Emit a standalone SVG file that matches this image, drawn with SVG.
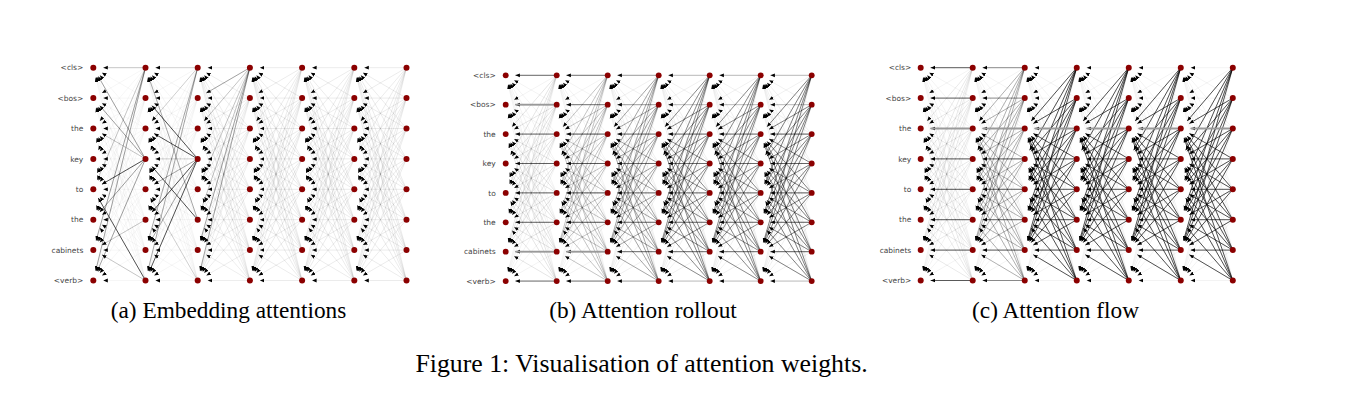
<svg xmlns="http://www.w3.org/2000/svg" width="1369" height="416" viewBox="0 0 1369 416">
<style>
.m{stroke:#000;stroke-width:.5;fill:none}
.h{stroke:#000;stroke-width:.8;fill:none}
.g{stroke:#9a9a9a;stroke-width:1.8;fill:none}
.n circle{fill:#8b0000}
.lab{font-family:"DejaVu Sans",sans-serif;font-size:7.5px;fill:#444;text-anchor:end}
.cap{font-family:"Liberation Serif",serif;font-size:23.3px;fill:#000;text-anchor:middle}
.cap2{font-family:"Liberation Serif",serif;font-size:25.8px;fill:#000;text-anchor:middle}
</style>
<defs>
<marker id="ah" markerUnits="userSpaceOnUse" markerWidth="6" markerHeight="6" viewBox="0 0 6 6" refX="4.5" refY="3" orient="auto"><path d="M0,1.1L4.5,3L0,4.9z" fill="#000"/></marker>
<g id="mesh" marker-end="url(#ah)">
<path d="M52.2,0L10,0"/><path d="M52.2,0L8.64,25.37"/><path d="M52.2,0L6.51,53.21"/><path d="M52.2,0L4.97,82.52"/><path d="M52.2,0L3.95,112.41"/><path d="M52.2,0L3.25,142.54"/><path d="M52.2,0L2.75,172.79"/><path d="M52.2,0L2.38,203.09"/>
<path d="M52.2,30.4L8.64,5.03"/><path d="M52.2,30.4L10,30.4"/><path d="M52.2,30.4L8.64,55.77"/><path d="M52.2,30.4L6.51,83.61"/><path d="M52.2,30.4L4.97,112.92"/><path d="M52.2,30.4L3.95,142.81"/><path d="M52.2,30.4L3.25,172.94"/><path d="M52.2,30.4L2.75,203.19"/>
<path d="M52.2,60.8L6.51,7.59"/><path d="M52.2,60.8L8.64,35.43"/><path d="M52.2,60.8L10,60.8"/><path d="M52.2,60.8L8.64,86.17"/><path d="M52.2,60.8L6.51,114.01"/><path d="M52.2,60.8L4.97,143.32"/><path d="M52.2,60.8L3.95,173.21"/><path d="M52.2,60.8L3.25,203.34"/>
<path d="M52.2,91.2L4.97,8.68"/><path d="M52.2,91.2L6.51,37.99"/><path d="M52.2,91.2L8.64,65.83"/><path d="M52.2,91.2L10,91.2"/><path d="M52.2,91.2L8.64,116.57"/><path d="M52.2,91.2L6.51,144.41"/><path d="M52.2,91.2L4.97,173.72"/><path d="M52.2,91.2L3.95,203.61"/>
<path d="M52.2,121.6L3.95,9.19"/><path d="M52.2,121.6L4.97,39.08"/><path d="M52.2,121.6L6.51,68.39"/><path d="M52.2,121.6L8.64,96.23"/><path d="M52.2,121.6L10,121.6"/><path d="M52.2,121.6L8.64,146.97"/><path d="M52.2,121.6L6.51,174.81"/><path d="M52.2,121.6L4.97,204.12"/>
<path d="M52.2,152L3.25,9.46"/><path d="M52.2,152L3.95,39.59"/><path d="M52.2,152L4.97,69.48"/><path d="M52.2,152L6.51,98.79"/><path d="M52.2,152L8.64,126.63"/><path d="M52.2,152L10,152"/><path d="M52.2,152L8.64,177.37"/><path d="M52.2,152L6.51,205.21"/>
<path d="M52.2,182.4L2.75,9.61"/><path d="M52.2,182.4L3.25,39.86"/><path d="M52.2,182.4L3.95,69.99"/><path d="M52.2,182.4L4.97,99.88"/><path d="M52.2,182.4L6.51,129.19"/><path d="M52.2,182.4L8.64,157.03"/><path d="M52.2,182.4L10,182.4"/><path d="M52.2,182.4L8.64,207.77"/>
<path d="M52.2,212.8L2.38,9.71"/><path d="M52.2,212.8L2.75,40.01"/><path d="M52.2,212.8L3.25,70.26"/><path d="M52.2,212.8L3.95,100.39"/><path d="M52.2,212.8L4.97,130.28"/><path d="M52.2,212.8L6.51,160.39"/><path d="M52.2,212.8L8.64,187.03"/><path d="M52.2,212.8L10,212.8"/>
</g>
<path id="hz" d="M52.2,0L10,0M52.2,30.4L10,30.4M52.2,60.8L10,60.8M52.2,91.2L10,91.2M52.2,121.6L10,121.6M52.2,152L10,152M52.2,182.4L10,182.4M52.2,212.8L10,212.8"/>
<path id="to26" d="M52.2,0L6.51,53.21M52.2,0L4.97,82.52M52.2,0L3.95,112.41M52.2,0L3.25,142.54M52.2,0L2.75,172.79M52.2,30.4L8.64,55.77M52.2,30.4L6.51,83.61M52.2,30.4L4.97,112.92M52.2,30.4L3.95,142.81M52.2,30.4L3.25,172.94M52.2,60.8L10,60.8M52.2,60.8L8.64,86.17M52.2,60.8L6.51,114.01M52.2,60.8L4.97,143.32M52.2,60.8L3.95,173.21M52.2,91.2L8.64,65.83M52.2,91.2L10,91.2M52.2,91.2L8.64,116.57M52.2,91.2L6.51,144.41M52.2,91.2L4.97,173.72M52.2,121.6L6.51,68.39M52.2,121.6L8.64,96.23M52.2,121.6L10,121.6M52.2,121.6L8.64,146.97M52.2,121.6L6.51,174.81M52.2,152L4.97,69.48M52.2,152L6.51,98.79M52.2,152L8.64,126.63M52.2,152L10,152M52.2,152L8.64,177.37M52.2,182.4L3.95,69.99M52.2,182.4L4.97,99.88M52.2,182.4L6.51,129.19M52.2,182.4L8.64,157.03M52.2,182.4L10,182.4M52.2,212.8L3.25,70.26M52.2,212.8L3.95,100.39M52.2,212.8L4.97,130.28M52.2,212.8L6.51,160.39M52.2,212.8L8.64,187.03"/>
</defs>
<rect width="1369" height="416" fill="#fff"/>

<!-- Panel A -->
<g id="panel-a" transform="translate(93.3,67.7)">
<g id="a-connectors">
<use href="#mesh" class="m" stroke-opacity=".07"/>
<use href="#mesh" class="m" stroke-opacity=".08" x="52.2"/>
<use href="#mesh" class="m" stroke-opacity=".14" x="104.4"/>
<use href="#mesh" class="m" stroke-opacity=".16" x="156.6"/>
<use href="#mesh" class="m" stroke-opacity=".16" x="208.8"/>
<use href="#mesh" class="m" stroke-opacity=".16" x="261"/>
<g>
<path class="h" stroke-opacity=".85" d="M52.2,91.2L8.64,116.57M52.2,212.8L4.97,130.28"/>
<path class="h" stroke-opacity=".45" d="M52.2,91.2L4.97,8.68M52.2,91.2L6.51,37.99M52.2,91.2L6.51,144.41M52.2,0L2.75,172.79M52.2,0L2.38,203.09M52.2,91.2L3.95,203.61"/>
<path class="h" stroke-opacity=".25" d="M52.2,0L10,0M52.2,91.2L8.64,65.83M52.2,0L3.95,112.41M52.2,212.8L8.64,187.03M52.2,152L8.64,177.37"/>
</g>
<g transform="translate(52.2,0)">
<path class="h" stroke-opacity=".85" d="M52.2,91.2L6.51,37.99M52.2,91.2L8.64,65.83M52.2,91.2L6.51,144.41M52.2,91.2L3.95,203.61M52.2,152L6.51,98.79"/>
<path class="h" stroke-opacity=".4" d="M52.2,91.2L4.97,173.72M52.2,152L3.25,9.46M52.2,0L2.75,172.79M52.2,0L2.38,203.09M52.2,91.2L8.64,116.57"/>
<path class="h" stroke-opacity=".2" d="M52.2,0L10,0M52.2,91.2L10,91.2M52.2,0L6.51,53.21M52.2,212.8L4.97,130.28"/>
</g>
<g transform="translate(104.4,0)">
<path class="h" stroke-opacity=".4" d="M52.2,0L8.64,25.37M52.2,0L2.38,203.09M52.2,0L2.75,172.79"/>
<path class="h" stroke-opacity=".22" d="M52.2,0L3.25,142.54M52.2,0L3.95,112.41M52.2,0L6.51,53.21"/>
</g>
</g>
<g id="a-nodes" class="n">
<g id="a-0-0"><circle cx="0" cy="0" r="3"/></g><g id="a-0-1"><circle cx="0" cy="30.4" r="3"/></g><g id="a-0-2"><circle cx="0" cy="60.8" r="3"/></g><g id="a-0-3"><circle cx="0" cy="91.2" r="3"/></g><g id="a-0-4"><circle cx="0" cy="121.6" r="3"/></g><g id="a-0-5"><circle cx="0" cy="152" r="3"/></g><g id="a-0-6"><circle cx="0" cy="182.4" r="3"/></g><g id="a-0-7"><circle cx="0" cy="212.8" r="3"/></g>
<g id="a-1-0"><circle cx="52.2" cy="0" r="3"/></g><g id="a-1-1"><circle cx="52.2" cy="30.4" r="3"/></g><g id="a-1-2"><circle cx="52.2" cy="60.8" r="3"/></g><g id="a-1-3"><circle cx="52.2" cy="91.2" r="3"/></g><g id="a-1-4"><circle cx="52.2" cy="121.6" r="3"/></g><g id="a-1-5"><circle cx="52.2" cy="152" r="3"/></g><g id="a-1-6"><circle cx="52.2" cy="182.4" r="3"/></g><g id="a-1-7"><circle cx="52.2" cy="212.8" r="3"/></g>
<g id="a-2-0"><circle cx="104.4" cy="0" r="3"/></g><g id="a-2-1"><circle cx="104.4" cy="30.4" r="3"/></g><g id="a-2-2"><circle cx="104.4" cy="60.8" r="3"/></g><g id="a-2-3"><circle cx="104.4" cy="91.2" r="3"/></g><g id="a-2-4"><circle cx="104.4" cy="121.6" r="3"/></g><g id="a-2-5"><circle cx="104.4" cy="152" r="3"/></g><g id="a-2-6"><circle cx="104.4" cy="182.4" r="3"/></g><g id="a-2-7"><circle cx="104.4" cy="212.8" r="3"/></g>
<g id="a-3-0"><circle cx="156.6" cy="0" r="3"/></g><g id="a-3-1"><circle cx="156.6" cy="30.4" r="3"/></g><g id="a-3-2"><circle cx="156.6" cy="60.8" r="3"/></g><g id="a-3-3"><circle cx="156.6" cy="91.2" r="3"/></g><g id="a-3-4"><circle cx="156.6" cy="121.6" r="3"/></g><g id="a-3-5"><circle cx="156.6" cy="152" r="3"/></g><g id="a-3-6"><circle cx="156.6" cy="182.4" r="3"/></g><g id="a-3-7"><circle cx="156.6" cy="212.8" r="3"/></g>
<g id="a-4-0"><circle cx="208.8" cy="0" r="3"/></g><g id="a-4-1"><circle cx="208.8" cy="30.4" r="3"/></g><g id="a-4-2"><circle cx="208.8" cy="60.8" r="3"/></g><g id="a-4-3"><circle cx="208.8" cy="91.2" r="3"/></g><g id="a-4-4"><circle cx="208.8" cy="121.6" r="3"/></g><g id="a-4-5"><circle cx="208.8" cy="152" r="3"/></g><g id="a-4-6"><circle cx="208.8" cy="182.4" r="3"/></g><g id="a-4-7"><circle cx="208.8" cy="212.8" r="3"/></g>
<g id="a-5-0"><circle cx="261" cy="0" r="3"/></g><g id="a-5-1"><circle cx="261" cy="30.4" r="3"/></g><g id="a-5-2"><circle cx="261" cy="60.8" r="3"/></g><g id="a-5-3"><circle cx="261" cy="91.2" r="3"/></g><g id="a-5-4"><circle cx="261" cy="121.6" r="3"/></g><g id="a-5-5"><circle cx="261" cy="152" r="3"/></g><g id="a-5-6"><circle cx="261" cy="182.4" r="3"/></g><g id="a-5-7"><circle cx="261" cy="212.8" r="3"/></g>
<g id="a-6-0"><circle cx="313.2" cy="0" r="3"/></g><g id="a-6-1"><circle cx="313.2" cy="30.4" r="3"/></g><g id="a-6-2"><circle cx="313.2" cy="60.8" r="3"/></g><g id="a-6-3"><circle cx="313.2" cy="91.2" r="3"/></g><g id="a-6-4"><circle cx="313.2" cy="121.6" r="3"/></g><g id="a-6-5"><circle cx="313.2" cy="152" r="3"/></g><g id="a-6-6"><circle cx="313.2" cy="182.4" r="3"/></g><g id="a-6-7"><circle cx="313.2" cy="212.8" r="3"/></g>
</g>
<g id="a-labels" class="lab">
<text x="-10" y="2.7">&lt;cls&gt;</text><text x="-10" y="33.1">&lt;bos&gt;</text><text x="-10" y="63.5">the</text><text x="-10" y="93.9">key</text><text x="-10" y="124.3">to</text><text x="-10" y="154.7">the</text><text x="-10" y="185.1">cabinets</text><text x="-10" y="215.5">&lt;verb&gt;</text>
</g>
</g>

<!-- Panel B -->
<g id="panel-b" transform="translate(505.7,75.3) scale(0.977,0.967)">
<g id="b-connectors">
<use href="#mesh" class="m" stroke-opacity=".1"/>
<use href="#mesh" class="m" stroke-opacity=".1" x="52.2"/>
<use href="#mesh" class="m" stroke-opacity=".12" x="104.4"/>
<use href="#mesh" class="m" stroke-opacity=".12" x="156.6"/>
<use href="#mesh" class="m" stroke-opacity=".12" x="208.8"/>
<use href="#mesh" class="m" stroke-opacity=".12" x="261"/>
<use href="#to26" class="h" stroke-opacity=".08"/>
<use href="#hz" class="h" stroke-opacity=".75"/>
<path class="g" d="M52.2,30.4L10,30.4M52.2,182.4L10,182.4"/>
<use href="#to26" class="h" stroke-opacity=".25" x="52.2"/>
<use href="#hz" class="h" stroke-opacity=".7" x="52.2"/>
<path class="g" d="M104.4,182.4L62.2,182.4"/>
<use href="#to26" class="h" stroke-opacity=".4" x="104.4"/>
<use href="#hz" class="h" stroke-opacity=".45" x="104.4"/>
<use href="#to26" class="h" stroke-opacity=".55" x="156.6"/>
<use href="#hz" class="h" stroke-opacity=".3" x="156.6"/>
<use href="#to26" class="h" stroke-opacity=".55" x="208.8"/>
<use href="#hz" class="h" stroke-opacity=".3" x="208.8"/>
<use href="#to26" class="h" stroke-opacity=".6" x="261"/>
<use href="#hz" class="h" stroke-opacity=".3" x="261"/>
</g>
<g id="b-nodes" class="n">
<g id="b-0-0"><circle cx="0" cy="0" r="3"/></g><g id="b-0-1"><circle cx="0" cy="30.4" r="3"/></g><g id="b-0-2"><circle cx="0" cy="60.8" r="3"/></g><g id="b-0-3"><circle cx="0" cy="91.2" r="3"/></g><g id="b-0-4"><circle cx="0" cy="121.6" r="3"/></g><g id="b-0-5"><circle cx="0" cy="152" r="3"/></g><g id="b-0-6"><circle cx="0" cy="182.4" r="3"/></g><g id="b-0-7"><circle cx="0" cy="212.8" r="3"/></g>
<g id="b-1-0"><circle cx="52.2" cy="0" r="3"/></g><g id="b-1-1"><circle cx="52.2" cy="30.4" r="3"/></g><g id="b-1-2"><circle cx="52.2" cy="60.8" r="3"/></g><g id="b-1-3"><circle cx="52.2" cy="91.2" r="3"/></g><g id="b-1-4"><circle cx="52.2" cy="121.6" r="3"/></g><g id="b-1-5"><circle cx="52.2" cy="152" r="3"/></g><g id="b-1-6"><circle cx="52.2" cy="182.4" r="3"/></g><g id="b-1-7"><circle cx="52.2" cy="212.8" r="3"/></g>
<g id="b-2-0"><circle cx="104.4" cy="0" r="3"/></g><g id="b-2-1"><circle cx="104.4" cy="30.4" r="3"/></g><g id="b-2-2"><circle cx="104.4" cy="60.8" r="3"/></g><g id="b-2-3"><circle cx="104.4" cy="91.2" r="3"/></g><g id="b-2-4"><circle cx="104.4" cy="121.6" r="3"/></g><g id="b-2-5"><circle cx="104.4" cy="152" r="3"/></g><g id="b-2-6"><circle cx="104.4" cy="182.4" r="3"/></g><g id="b-2-7"><circle cx="104.4" cy="212.8" r="3"/></g>
<g id="b-3-0"><circle cx="156.6" cy="0" r="3"/></g><g id="b-3-1"><circle cx="156.6" cy="30.4" r="3"/></g><g id="b-3-2"><circle cx="156.6" cy="60.8" r="3"/></g><g id="b-3-3"><circle cx="156.6" cy="91.2" r="3"/></g><g id="b-3-4"><circle cx="156.6" cy="121.6" r="3"/></g><g id="b-3-5"><circle cx="156.6" cy="152" r="3"/></g><g id="b-3-6"><circle cx="156.6" cy="182.4" r="3"/></g><g id="b-3-7"><circle cx="156.6" cy="212.8" r="3"/></g>
<g id="b-4-0"><circle cx="208.8" cy="0" r="3"/></g><g id="b-4-1"><circle cx="208.8" cy="30.4" r="3"/></g><g id="b-4-2"><circle cx="208.8" cy="60.8" r="3"/></g><g id="b-4-3"><circle cx="208.8" cy="91.2" r="3"/></g><g id="b-4-4"><circle cx="208.8" cy="121.6" r="3"/></g><g id="b-4-5"><circle cx="208.8" cy="152" r="3"/></g><g id="b-4-6"><circle cx="208.8" cy="182.4" r="3"/></g><g id="b-4-7"><circle cx="208.8" cy="212.8" r="3"/></g>
<g id="b-5-0"><circle cx="261" cy="0" r="3"/></g><g id="b-5-1"><circle cx="261" cy="30.4" r="3"/></g><g id="b-5-2"><circle cx="261" cy="60.8" r="3"/></g><g id="b-5-3"><circle cx="261" cy="91.2" r="3"/></g><g id="b-5-4"><circle cx="261" cy="121.6" r="3"/></g><g id="b-5-5"><circle cx="261" cy="152" r="3"/></g><g id="b-5-6"><circle cx="261" cy="182.4" r="3"/></g><g id="b-5-7"><circle cx="261" cy="212.8" r="3"/></g>
<g id="b-6-0"><circle cx="313.2" cy="0" r="3"/></g><g id="b-6-1"><circle cx="313.2" cy="30.4" r="3"/></g><g id="b-6-2"><circle cx="313.2" cy="60.8" r="3"/></g><g id="b-6-3"><circle cx="313.2" cy="91.2" r="3"/></g><g id="b-6-4"><circle cx="313.2" cy="121.6" r="3"/></g><g id="b-6-5"><circle cx="313.2" cy="152" r="3"/></g><g id="b-6-6"><circle cx="313.2" cy="182.4" r="3"/></g><g id="b-6-7"><circle cx="313.2" cy="212.8" r="3"/></g>
</g>
<g id="b-labels" class="lab" style="font-size:7.7px">
<text x="-10.2" y="2.8">&lt;cls&gt;</text><text x="-10.2" y="33.2">&lt;bos&gt;</text><text x="-10.2" y="63.6">the</text><text x="-10.2" y="94">key</text><text x="-10.2" y="124.4">to</text><text x="-10.2" y="154.8">the</text><text x="-10.2" y="185.2">cabinets</text><text x="-10.2" y="215.6">&lt;verb&gt;</text>
</g>
</g>

<!-- Panel C -->
<g id="panel-c" transform="translate(920.7,67.7) scale(0.9965,1)">
<g id="c-connectors">
<use href="#mesh" class="m" stroke-opacity=".1"/>
<use href="#mesh" class="m" stroke-opacity=".1" x="52.2"/>
<use href="#mesh" class="m" stroke-opacity=".1" x="104.4"/>
<use href="#mesh" class="m" stroke-opacity=".1" x="156.6"/>
<use href="#mesh" class="m" stroke-opacity=".1" x="208.8"/>
<use href="#mesh" class="m" stroke-opacity=".1" x="261"/>
<use href="#to26" class="h" stroke-opacity=".06"/>
<use href="#hz" class="h" stroke-opacity=".8"/>
<use href="#to26" class="h" stroke-opacity=".35" x="52.2"/>
<use href="#hz" class="h" stroke-opacity=".55" x="52.2"/>
<use href="#to26" class="h" stroke-opacity=".85" stroke-width=".9" x="104.4"/>
<use href="#to26" class="h" stroke-opacity=".85" stroke-width=".9" x="156.6"/>
<use href="#to26" class="h" stroke-opacity=".85" stroke-width=".9" x="208.8"/>
<use href="#to26" class="h" stroke-opacity=".85" stroke-width=".9" x="261"/>
<path class="g" d="M52.2,60.8L10,60.8M104.4,60.8L62.2,60.8M156.6,60.8L114.4,60.8M208.8,60.8L166.6,60.8M261,60.8L218.8,60.8M313.2,60.8L271,60.8"/>
</g>
<g id="c-nodes" class="n">
<g id="c-0-0"><circle cx="0" cy="0" r="3"/></g><g id="c-0-1"><circle cx="0" cy="30.4" r="3"/></g><g id="c-0-2"><circle cx="0" cy="60.8" r="3"/></g><g id="c-0-3"><circle cx="0" cy="91.2" r="3"/></g><g id="c-0-4"><circle cx="0" cy="121.6" r="3"/></g><g id="c-0-5"><circle cx="0" cy="152" r="3"/></g><g id="c-0-6"><circle cx="0" cy="182.4" r="3"/></g><g id="c-0-7"><circle cx="0" cy="212.8" r="3"/></g>
<g id="c-1-0"><circle cx="52.2" cy="0" r="3"/></g><g id="c-1-1"><circle cx="52.2" cy="30.4" r="3"/></g><g id="c-1-2"><circle cx="52.2" cy="60.8" r="3"/></g><g id="c-1-3"><circle cx="52.2" cy="91.2" r="3"/></g><g id="c-1-4"><circle cx="52.2" cy="121.6" r="3"/></g><g id="c-1-5"><circle cx="52.2" cy="152" r="3"/></g><g id="c-1-6"><circle cx="52.2" cy="182.4" r="3"/></g><g id="c-1-7"><circle cx="52.2" cy="212.8" r="3"/></g>
<g id="c-2-0"><circle cx="104.4" cy="0" r="3"/></g><g id="c-2-1"><circle cx="104.4" cy="30.4" r="3"/></g><g id="c-2-2"><circle cx="104.4" cy="60.8" r="3"/></g><g id="c-2-3"><circle cx="104.4" cy="91.2" r="3"/></g><g id="c-2-4"><circle cx="104.4" cy="121.6" r="3"/></g><g id="c-2-5"><circle cx="104.4" cy="152" r="3"/></g><g id="c-2-6"><circle cx="104.4" cy="182.4" r="3"/></g><g id="c-2-7"><circle cx="104.4" cy="212.8" r="3"/></g>
<g id="c-3-0"><circle cx="156.6" cy="0" r="3"/></g><g id="c-3-1"><circle cx="156.6" cy="30.4" r="3"/></g><g id="c-3-2"><circle cx="156.6" cy="60.8" r="3"/></g><g id="c-3-3"><circle cx="156.6" cy="91.2" r="3"/></g><g id="c-3-4"><circle cx="156.6" cy="121.6" r="3"/></g><g id="c-3-5"><circle cx="156.6" cy="152" r="3"/></g><g id="c-3-6"><circle cx="156.6" cy="182.4" r="3"/></g><g id="c-3-7"><circle cx="156.6" cy="212.8" r="3"/></g>
<g id="c-4-0"><circle cx="208.8" cy="0" r="3"/></g><g id="c-4-1"><circle cx="208.8" cy="30.4" r="3"/></g><g id="c-4-2"><circle cx="208.8" cy="60.8" r="3"/></g><g id="c-4-3"><circle cx="208.8" cy="91.2" r="3"/></g><g id="c-4-4"><circle cx="208.8" cy="121.6" r="3"/></g><g id="c-4-5"><circle cx="208.8" cy="152" r="3"/></g><g id="c-4-6"><circle cx="208.8" cy="182.4" r="3"/></g><g id="c-4-7"><circle cx="208.8" cy="212.8" r="3"/></g>
<g id="c-5-0"><circle cx="261" cy="0" r="3"/></g><g id="c-5-1"><circle cx="261" cy="30.4" r="3"/></g><g id="c-5-2"><circle cx="261" cy="60.8" r="3"/></g><g id="c-5-3"><circle cx="261" cy="91.2" r="3"/></g><g id="c-5-4"><circle cx="261" cy="121.6" r="3"/></g><g id="c-5-5"><circle cx="261" cy="152" r="3"/></g><g id="c-5-6"><circle cx="261" cy="182.4" r="3"/></g><g id="c-5-7"><circle cx="261" cy="212.8" r="3"/></g>
<g id="c-6-0"><circle cx="313.2" cy="0" r="3"/></g><g id="c-6-1"><circle cx="313.2" cy="30.4" r="3"/></g><g id="c-6-2"><circle cx="313.2" cy="60.8" r="3"/></g><g id="c-6-3"><circle cx="313.2" cy="91.2" r="3"/></g><g id="c-6-4"><circle cx="313.2" cy="121.6" r="3"/></g><g id="c-6-5"><circle cx="313.2" cy="152" r="3"/></g><g id="c-6-6"><circle cx="313.2" cy="182.4" r="3"/></g><g id="c-6-7"><circle cx="313.2" cy="212.8" r="3"/></g>
</g>
<g id="c-labels" class="lab">
<text x="-9.5" y="2.7">&lt;cls&gt;</text><text x="-9.5" y="33.1">&lt;bos&gt;</text><text x="-9.5" y="63.5">the</text><text x="-9.5" y="93.9">key</text><text x="-9.5" y="124.3">to</text><text x="-9.5" y="154.7">the</text><text x="-9.5" y="185.1">cabinets</text><text x="-9.5" y="215.5">&lt;verb&gt;</text>
</g>
</g>

<g id="captions">
<text class="cap" x="228.5" y="318">(a) Embedding attentions</text>
<text class="cap" x="643" y="318">(b) Attention rollout</text>
<text class="cap" x="1055.5" y="318">(c) Attention flow</text>
<text class="cap2" x="641.5" y="372">Figure 1: Visualisation of attention weights.</text>
</g>
</svg>
